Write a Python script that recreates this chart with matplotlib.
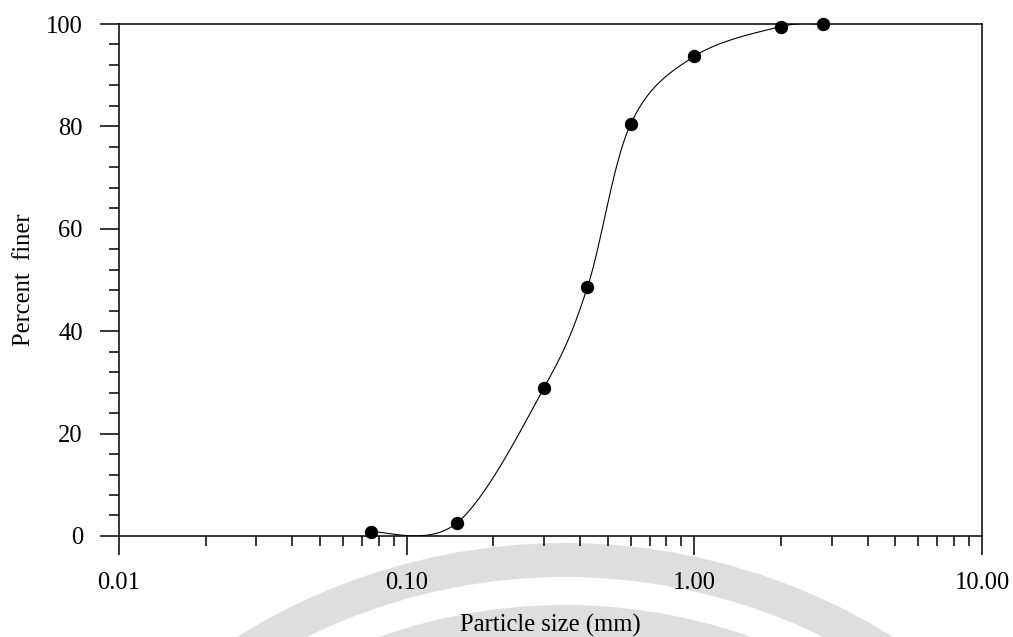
#!/usr/bin/env python3
"""Grain size distribution curve (percent finer vs particle size)."""

import numpy as np
import matplotlib

matplotlib.use("Agg")
import matplotlib.pyplot as plt
from matplotlib import ticker as mticker
from matplotlib.patches import Wedge

# sieve analysis results
sieve_mm = [0.075, 0.15, 0.30, 0.425, 0.60, 1.00, 2.00, 2.80]
percent_finer = [0.8, 2.6, 28.9, 48.6, 80.4, 93.7, 99.5, 100.0]

x_ticks = [0.01, 0.1, 1.0, 10.0]
x_tick_labels = ["0.01", "0.10", "1.00", "10.00"]
y_ticks = [0, 20, 40, 60, 80, 100]


def smooth_path(pts, steps=60):
  """Bezier smoothing through points (control points at 1/6 of neighbour span)."""
  pts = np.asarray(pts, float)
  padded = np.vstack([pts[0], pts, pts[-1]])
  t = np.linspace(0, 1, steps)[:, None]
  out = []
  for i in range(len(pts) - 1):
    p0, p1 = padded[i + 1], padded[i + 2]
    c1 = p0 + (p1 - padded[i]) / 6.0
    c2 = p1 - (padded[i + 3] - p0) / 6.0
    seg = ((1 - t) ** 3 * p0 + 3 * (1 - t) ** 2 * t * c1
           + 3 * (1 - t) * t ** 2 * c2 + t ** 3 * p1)
    out.append(seg if i == 0 else seg[1:])
  return np.vstack(out)


plt.rcParams["font.family"] = ["Liberation Serif", "DejaVu Serif"]
plt.rcParams["font.size"] = 17.7

fig = plt.figure(figsize=(10.13, 6.37), dpi=100)
fig.patch.set_facecolor("white")

# faint seal rings in the background
for r, w in [(6.20, 0.34), (5.58, 0.40)]:
  fig.patches.append(Wedge((5.65, -5.26), r, 0, 360, width=w,
                           transform=fig.dpi_scale_trans,
                           facecolor="#dedede", edgecolor="none", zorder=-5))

ax = fig.add_axes([0.1175, 0.1586, 0.8519, 0.8037])
ax.set_facecolor("none")

ax.set_xscale("log")
ax.set_xlim(0.01, 10)
ax.set_ylim(0, 100)

# smooth the curve in screen space so it looks the same as on the page
disp = ax.transData.transform(np.column_stack([sieve_mm, percent_finer]))
curve = ax.transData.inverted().transform(smooth_path(disp))
ax.plot(curve[:, 0], curve[:, 1], color="black", lw=0.8, zorder=3)
ax.plot(sieve_mm, percent_finer, "o", color="black", ms=8.6, zorder=4, clip_on=False)

ax.xaxis.set_major_locator(mticker.FixedLocator(x_ticks))
ax.xaxis.set_major_formatter(mticker.FixedFormatter(x_tick_labels))
ax.xaxis.set_minor_locator(mticker.LogLocator(base=10, subs=np.arange(2, 10)))
ax.xaxis.set_minor_formatter(mticker.NullFormatter())
ax.yaxis.set_major_locator(mticker.FixedLocator(y_ticks))
ax.yaxis.set_minor_locator(mticker.MultipleLocator(4))

ax.tick_params(which="major", direction="out", length=14, width=1.1, pad=12)
ax.tick_params(which="minor", direction="out", length=7, width=1.1)
ax.tick_params(top=False, right=False)
for spine in ax.spines.values():
  spine.set_linewidth(1.1)

ax.set_xlabel("Particle size (mm)", labelpad=14)
ax.set_ylabel("Percent  finer", labelpad=8)

fig.savefig("out.png", dpi=100, facecolor="white")
plt.close(fig)
